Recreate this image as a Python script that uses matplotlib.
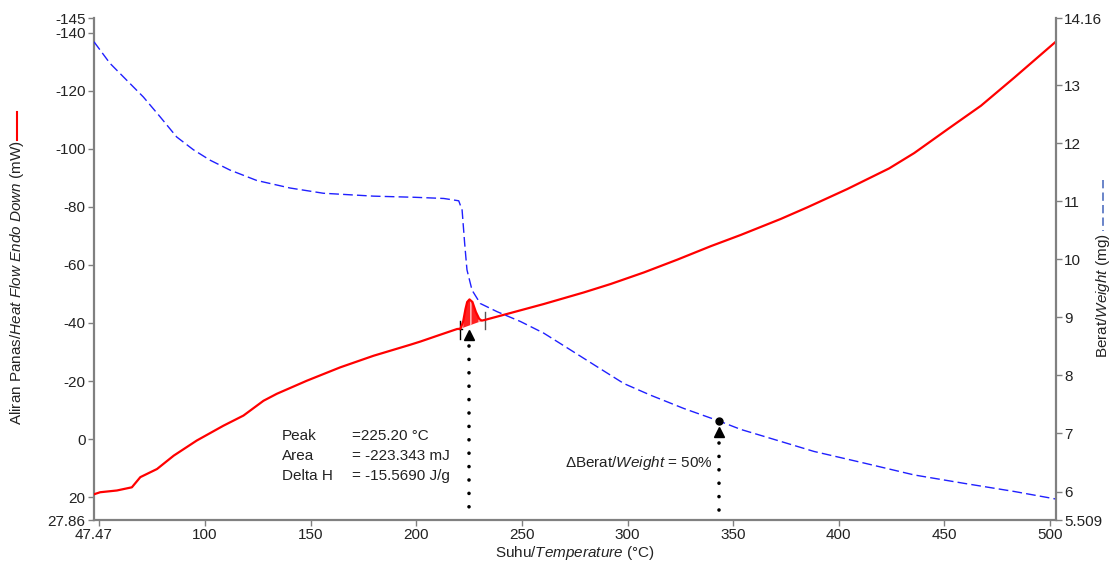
import matplotlib.pyplot as plt
from matplotlib.lines import Line2D
import numpy as np

plt.rcParams['font.family'] = ['Liberation Sans', 'DejaVu Sans']
plt.rcParams['mathtext.fontset'] = 'custom'
plt.rcParams['mathtext.rm'] = 'Liberation Sans'
plt.rcParams['mathtext.it'] = 'Liberation Sans:italic'
plt.rcParams['hatch.linewidth'] = 1.2

# Aliran panas / heat flow (mW), sumbu kiri
suhu_hf = [47.47, 50.4, 58.3, 65.4, 69.4, 77.3, 85.2, 96.1, 108.7, 118.2,
           127.7, 134.0, 148.2, 164.0, 179.8, 197.2, 202.0, 210.0, 219.3,
           220.9, 222.2, 223.3, 224.1, 225.2, 226.6, 228.2, 229.8, 231.0, 232.3,
           243.0, 260.3, 279.3, 292.0, 307.8, 323.6, 339.3, 353.6, 372.5,
           385.1, 404.0, 423.8, 435.7, 451.5, 467.3, 483.1, 502.8]
heat_flow = [19.0, 18.3, 17.7, 16.6, 13.1, 10.3, 5.7, 0.5, -4.6, -8.1,
             -13.2, -15.6, -20.1, -24.7, -28.7, -32.5, -33.6, -35.6, -37.9,
             -38.0, -40.5, -44.8, -47.2, -48.1, -47.2, -43.8, -41.4, -40.8, -41.0,
             -43.1, -46.5, -50.5, -53.4, -57.4, -61.8, -66.4, -70.3, -75.8,
             -79.8, -86.1, -93.2, -98.5, -106.7, -114.8, -124.5, -136.9]

# puncak
puncak_T = [220.9, 222.2, 223.3, 224.1, 225.2, 226.6, 228.2, 229.8, 231.0, 232.3]
puncak_hf = [-38.0, -40.5, -44.8, -47.2, -48.1, -47.2, -43.8, -41.4, -40.8, -41.0]
peak_T = 225.2

# Berat / weight (mg), sumbu kanan
suhu_w = [47.47, 55.0, 62.9, 70.8, 78.7, 86.6, 94.5, 102.4, 111.8, 124.5,
          140.3, 156.0, 179.8, 199.5, 213.0, 220.1, 221.7, 222.9, 224.0,
          226.4, 230.3, 238.2, 249.3, 260.3, 273.0, 285.6, 298.3, 310.9,
          326.7, 343.3, 353.6, 364.6, 388.3, 412.0, 435.7, 459.4, 483.1, 502.8]
berat = [13.75, 13.38, 13.09, 12.80, 12.46, 12.11, 11.89, 11.71, 11.54, 11.36,
         11.23, 11.14, 11.09, 11.07, 11.05, 11.01, 10.85, 10.28, 9.82,
         9.47, 9.24, 9.10, 8.93, 8.73, 8.44, 8.15, 7.86, 7.66,
         7.43, 7.215, 7.07, 6.95, 6.69, 6.49, 6.285, 6.14, 6.0, 5.87]
T_50 = 343.3
w_50 = 7.215

yticks_kiri = [-145, -140, -120, -100, -80, -60, -40, -20, 0, 20, 27.86]
ylabels_kiri = ['-145', '-140', '-120', '-100', '-80', '-60', '-40', '-20', '0', '20', '27.86']
yticks_kanan = [5.509, 6, 7, 8, 9, 10, 11, 12, 13, 14.16]
ylabels_kanan = ['5.509', '6', '7', '8', '9', '10', '11', '12', '13', '14.16']
xticks = [50, 100, 150, 200, 250, 300, 350, 400, 450, 500]
xlabels = ['', '100', '150', '200', '250', '300', '350', '400', '450', '500']

W, H = 1112, 572
fig = plt.figure(figsize=(W / 100, H / 100), dpi=100)
ax = fig.add_axes([94 / W, 1 - 520 / H, (1056 - 94) / W, (520 - 18) / H])
ax2 = ax.twinx()

grey = '#808080'
red = '#ff0000'
blue = '#2020ff'

ax.plot(suhu_hf, heat_flow, color=red, lw=1.6, zorder=3)
base = np.interp(puncak_T, [puncak_T[0], puncak_T[-1]], [puncak_hf[0], puncak_hf[-1]])
ax.fill_between(puncak_T, puncak_hf, base, facecolor='#ff2020', edgecolor='#ffb0b0',
                hatch='||', lw=0, zorder=2)
ax.plot([puncak_T[0]] * 2, [-34.5, -40.8], color='black', lw=1)
ax.plot([puncak_T[0] - 0.8, puncak_T[0] + 0.8], [-38.0, -38.0], color='black', lw=1)
ax.plot([puncak_T[-1]] * 2, [-37.9, -43.8], color='#555555', lw=1)
ax.plot([peak_T], [-36.0], marker='^', color='black', ms=7, zorder=4)
ax.plot([peak_T, peak_T], [-32, 27.86], color='black', lw=2.6,
        linestyle=(0, (0.01, 3.7)), dash_capstyle='round', clip_on=False)

ax2.plot(suhu_w, berat, color=blue, lw=1.0, linestyle=(0, (7, 3)))
ax2.plot([T_50], [w_50], marker='o', color='black', ms=5)
ax2.plot([T_50], [7.02], marker='^', color='black', ms=7)
ax2.plot([T_50, T_50], [6.83, 5.509], color='black', lw=2.6,
         linestyle=(0, (0.01, 3.7)), dash_capstyle='round', clip_on=False)

ax.set_xlim(47.47, 502.8)
ax.set_ylim(27.86, -145)
ax2.set_ylim(5.509, 14.16)

ax.set_xticks(xticks, xlabels)
ax.set_xticks([47.47], ['47.47'], minor=True)
ax.set_yticks(yticks_kiri, ylabels_kiri)
ax2.set_yticks(yticks_kanan, ylabels_kanan)

for a in (ax, ax2):
    for s in a.spines.values():
        s.set_color(grey)
        s.set_linewidth(1.6)
    a.spines['top'].set_visible(False)
    a.tick_params(which='major', direction='out', length=4, width=1, color=grey,
                  labelsize=11, labelcolor='#222222', pad=2)
ax.spines['right'].set_visible(False)
ax2.spines['left'].set_visible(False)
ax2.spines['bottom'].set_visible(False)
ax.tick_params(axis='x', which='minor', length=0, pad=6, labelsize=11, labelcolor='#222222')
ax.yaxis.set_minor_locator(plt.NullLocator())
ax2.yaxis.set_minor_locator(plt.NullLocator())

ax.set_xlabel(r'Suhu/$\mathit{Temperature}$ (°C)', fontsize=11, labelpad=1, color='#222222')

# label sumbu dengan garis legenda
fig.text(17 / W, 1 - 283 / H, r'Aliran Panas/$\mathit{Heat\ Flow\ Endo\ Down}$ (mW)',
         rotation=90, ha='center', va='center', fontsize=11, color='#222222')
fig.add_artist(Line2D([17 / W, 17 / W], [1 - 112 / H, 1 - 140 / H], color=red, lw=1.5))
fig.text(1103 / W, 1 - 296 / H, r'Berat/$\mathit{Weight}$ (mg)',
         rotation=90, ha='center', va='center', fontsize=11, color='#222222')
fig.add_artist(Line2D([1103 / W, 1103 / W], [1 - 180 / H, 1 - 231 / H], color='#5070c0',
                      lw=1.2, linestyle=(0, (5, 2.5))))

# teks anotasi
for i, (nama, nilai) in enumerate([('Peak', '=225.20 °C'), ('Area', '= -223.343 mJ'),
                                   ('Delta H', '= -15.5690 J/g')]):
    ax.text(136.4, -1.0 + 6.9 * i, nama, fontsize=11, va='center', color='#222222')
    ax.text(169.5, -1.0 + 6.9 * i, nilai, fontsize=11, va='center', color='#222222')
ax.text(340.1, 8.4, r'ΔBerat/$\mathit{Weight}$ = 50%', fontsize=11, va='center',
        ha='right', color='#222222')

fig.savefig('out.png', dpi=100)
